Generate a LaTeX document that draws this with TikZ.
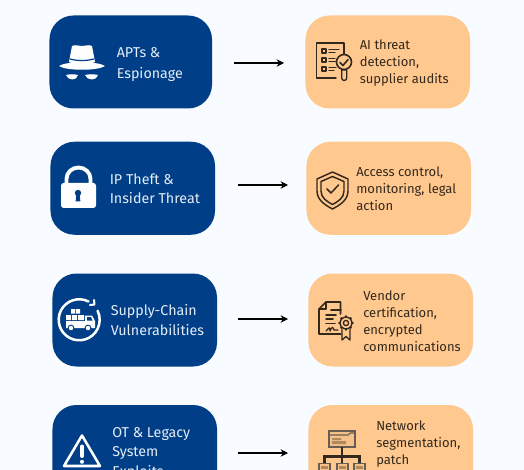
\documentclass[tikz,border=0pt]{standalone}
\usepackage{fontspec}
\setmainfont{Fira Sans}
\usetikzlibrary{arrows.meta}
\definecolor{pagebg}{HTML}{F8FBFF}
\definecolor{threatblue}{HTML}{003F87}
\definecolor{defenseorange}{HTML}{FFC88F}
\definecolor{bluetext}{HTML}{E4ECF6}
\definecolor{darktext}{HTML}{33281C}
\definecolor{folderfill}{HTML}{B08A5E}
\tikzset{
	threatbox/.style={fill=threatblue,rounded corners=18pt,minimum height=69.75pt,minimum width=123.4pt,inner sep=0pt},
	defensebox/.style={fill=defenseorange,rounded corners=18pt,minimum height=69.75pt,minimum width=123.4pt,inner sep=0pt},
	threatlabel/.style={anchor=west,align=left,inner sep=0pt,text=bluetext,font=\fontsize{10.7}{14.4}\selectfont},
	defenselabel/.style={anchor=west,align=left,inner sep=0pt,text=darktext,font=\fontsize{9.75}{12.75}\selectfont},
	flowarrow/.style={-{Stealth[length=5.5pt,width=5.5pt]},line width=1.2pt,black},
	iconwhite/.style={draw=white,line width=1.9pt,line cap=round,line join=round},
	icondark/.style={draw=darktext,line width=1pt,line cap=round,line join=round},
}

\begin{document}
\begin{tikzpicture}[x=0.75pt,y=-0.75pt]
	\useasboundingbox (0,0) rectangle (524,470);
	\clip (0,0) rectangle (524,470);
	\fill [pagebg] (0,0) rectangle (524,470);
	%threat boxes
	\node [threatbox,minimum width=121.9pt] (threatA) at (130.75,62) {};
	\node [threatbox] (threatB) at (132.75,188.25) {};
	\node [threatbox] (threatC) at (134.75,320) {};
	\node [threatbox] (threatD) at (134.75,451.5) {};
	%defense boxes
	\node [defensebox] (defenseA) at (387.75,62) {};
	\node [defensebox] (defenseB) at (388.75,188.25) {};
	\node [defensebox] (defenseC) at (390.75,320) {};
	\node [defensebox] (defenseD) at (390.75,451.5) {};
	%labels
	\node [threatlabel] (labelA) at (116.5,64.5) {APTs \&\\[1pt]Espionage};
	\node [threatlabel] (labelB) at (109.5,188.5) {IP Theft \&\\Insider Threat};
	\node [threatlabel] (labelC) at (110.5,320) {Supply-Chain\\Vulnerabilities};
	\node [threatlabel] (labelD) at (112,453.5) {OT \& Legacy\\System\\Exploits};
	\node [defenselabel] (fixA) at (359.5,63) {AI threat\\detection,\\supplier audits};
	\node [defenselabel] (fixB) at (356,188.5) {Access control,\\monitoring, legal\\action};
	\node [defenselabel] (fixC) at (363,321) {Vendor\\certification,\\encrypted\\communications};
	\node [defenselabel] (fixD) at (376,444.5) {Network\\segmentation,\\patch};
	%arrows, they stop short of the boxes
	\coordinate (arrowAs) at (234,63);
	\coordinate (arrowAe) at (284,63);
	\coordinate (arrowBs) at (238,185);
	\coordinate (arrowBe) at (288,185);
	\coordinate (arrowCs) at (238,319);
	\coordinate (arrowCe) at (288,319);
	\coordinate (arrowDs) at (238,453);
	\coordinate (arrowDe) at (288,453);
	\draw [flowarrow] (arrowAs) -- (arrowAe);
	\draw [flowarrow] (arrowBs) -- (arrowBe);
	\draw [flowarrow] (arrowCs) -- (arrowCe);
	\draw [flowarrow] (arrowDs) -- (arrowDe);
	%hat
	\fill [white] (72,46) .. controls (76,44) and (79,46.5) .. (82,46) .. controls (85,46.5) and (88,44) .. (92,46) -- (95,62) .. controls (88,65) and (76,65) .. (69,62) -- cycle;
	\fill [white] (59,66) .. controls (66,61) and (98,61) .. (105,66) .. controls (98,71) and (66,71) .. (59,66) -- cycle;
	\draw [threatblue,line width=0.9pt] (70,59) .. controls (77,61) and (87,61) .. (94,59);
	\fill [white] (66,75) .. controls (70,74) and (74,74) .. (78,75) .. controls (77,81) and (68,81) .. (66,75) -- cycle;
	\fill [white] (85,75) .. controls (89,74) and (94,74) .. (98,75) .. controls (97,81) and (87,81) .. (85,75) -- cycle;
	%lock
	\fill [white,rounded corners=2pt] (61,183) rectangle (96,208);
	\draw [iconwhite,line width=2.9pt,line cap=butt] (66.5,184) -- (66.5,179) arc (180:360:12 and 11.5) -- (90.5,184);
	\fill [threatblue] (78,193) circle (3.2);
	\fill [threatblue] (76.4,194) -- (79.6,194) -- (80.4,201.5) -- (75.6,201.5) -- cycle;
	%truck in a circle
	\draw [iconwhite] (88.5,301.5) arc (-63:-386:20.5);
	\draw [iconwhite,line width=1.5pt] (94,300) -- (94.5,304.5) -- (90,305);
	\fill [white] (71,309) rectangle (75,313.5) (75.8,309) rectangle (80,313.5);
	\fill [white] (66,315) rectangle (71,320) (72,315) rectangle (77,320) (78,315) rectangle (84,320);
	\fill [white] (66,321) -- (85,321) -- (85,315.5) -- (92,315.5) -- (95,321) -- (95,328) -- (66,328) -- cycle;
	\fill [threatblue] (87,317) -- (91,317) -- (92.5,320.5) -- (87,320.5) -- cycle;
	\filldraw [fill=white,draw=threatblue,line width=0.7pt] (71,328) circle (2.9) (88,328) circle (2.9);
	%warning triangle
	\draw [iconwhite] (82,435.5) -- (100,466) -- (64,466) -- cycle;
	\draw [white,line width=3pt,line cap=round] (82,446.5) -- (82,456);
	\fill [white] (82,461.8) circle (2);
	%checklist with a lens
	\draw [icondark] (336,78) -- (316.5,78) -- (316.5,43) -- (344,43) -- (344,54);
	\draw [icondark] (322,49) rectangle (326,53) (322,58) rectangle (326,62) (322,67) rectangle (326,71);
	\draw [icondark] (329,49.5) -- (339,49.5) (329,52.5) -- (335,52.5) (329,58.5) -- (335,58.5) (329,61.5) -- (336,61.5) (329,67.5) -- (336,67.5) (329,70.5) -- (334,70.5);
	\draw [icondark,line width=1.2pt] (344,62) circle (7.5);
	\draw [icondark,line width=1.2pt] (340,62.5) -- (343,65.5) -- (348,59.5);
	\draw [icondark] (341.7,70) -- (341.7,78) arc (180:0:2.5) -- (346.7,70) -- cycle;
	%shield
	\draw [icondark,line width=1.1pt] (332.5,172) -- (348,179) -- (348,191) .. controls (348,200) and (340,205) .. (332.5,209) .. controls (325,205) and (317,200) .. (317,191) -- (317,179) -- cycle;
	\draw [icondark,line width=1.1pt] (332.5,176.5) -- (344,181.5) -- (344,191) .. controls (344,198) and (338,201.5) .. (332.5,204.5) .. controls (327,201.5) and (321,198) .. (321,191) -- (321,181.5) -- cycle;
	\draw [icondark,line width=1.1pt] (327,189) -- (331,193) -- (338.5,185);
	%certificate
	\draw [icondark,line width=1.2pt] (340.5,314) -- (340.5,302) -- (326,302) -- (319,309) -- (319,334) -- (341,334);
	\draw [icondark] (326,302) -- (326,309) -- (319,309);
	\draw [icondark,line width=1.2pt] (331,310) -- (341,310) (326,315) -- (336,315) (326,319) -- (333,319) (326,323.5) -- (335,323.5);
	\draw [icondark] (326,331) .. controls (329,328) and (330,326) .. (330,331) .. controls (332,326) and (333,327) .. (334,330) -- (338,330);
	\foreach \ang in {0,45,...,315}
		\fill [darktext] (346,323) ++(\ang:6.6) circle (1.3);
	\filldraw [fill=defenseorange,draw=darktext,line width=1pt] (346,323) circle (5.9);
	\draw [icondark] (346,323) circle (2.6);
	\draw [icondark] (342,329.5) -- (342,340) -- (346,336.5) -- (350,340) -- (350,329.5);
	%folder with its branches
	\draw [darktext!75,line width=1pt,fill=defenseorange!88!folderfill] (329,431) rectangle (355,447);
	\draw [darktext!75,line width=0.8pt] (329,435) -- (348,435) -- (350,433) -- (355,433);
	\fill [folderfill] (332,438) rectangle (341,440) (332,441) rectangle (346,444);
	\draw [darktext,line width=1.6pt] (342,447) -- (342,463) (324.5,463) -- (324.5,456.5) -- (359.5,456.5) -- (359.5,463);
	\foreach \boxx in {319,337,354}
	{
		\draw [darktext!75,line width=1pt,fill=defenseorange!88!folderfill] (\boxx,463.5) rectangle ++(11,12);
		\fill [folderfill] (\boxx+2,466) rectangle ++(7,2.5);
	}
\end{tikzpicture}
\end{document}
